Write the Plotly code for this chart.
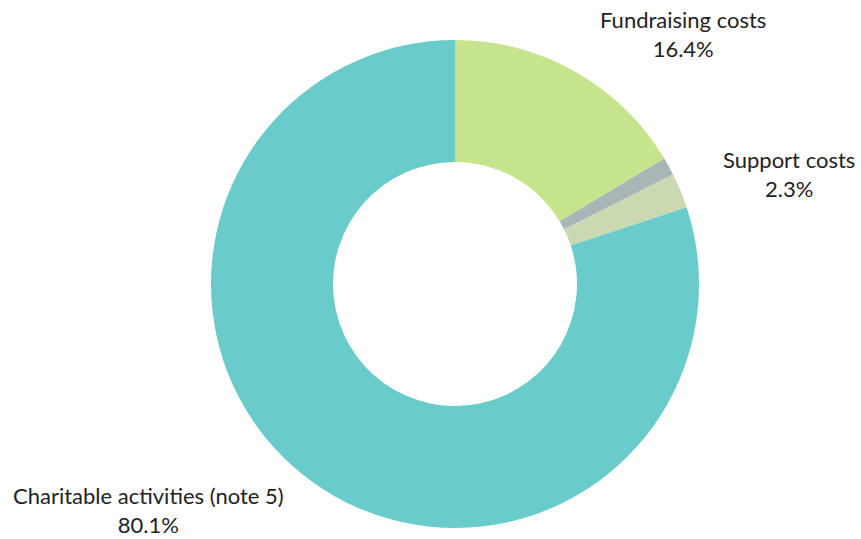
import plotly.graph_objects as go

# data
labels = ["Fundraising costs", "Governance costs", "Support costs", "Charitable activities (note 5)"]
values = [16.4, 1.2, 2.3, 80.1]
colors = ["#C5E48B", "#AAB5B8", "#CBD9B3", "#6ACCCA"]
show_label = [True, False, True, True]

# label positions in pixels (x centre, y, anchor)
label_pos = {
    "Fundraising costs": (683, 34, "middle"),
    "Support costs": (789, 174, "middle"),
    "Charitable activities (note 5)": (148, 539, "bottom"),
}

W, H = 861, 539

fig = go.Figure(go.Pie(
    labels=labels,
    values=values,
    marker=dict(colors=colors, line=dict(width=0)),
    hole=0.5,
    sort=False,
    direction="clockwise",
    rotation=0,
    textinfo="none",
    showlegend=False,
    domain=dict(x=[211 / W, 699 / W], y=[1 - 528 / H, 1 - 40 / H]),
))

font = dict(family="Lato, 'Noto Sans', sans-serif", size=22, color="#222222")
for lab, val, show in zip(labels, values, show_label):
    if not show:
        continue
    x, y, anchor = label_pos[lab]
    fig.add_annotation(x=x / W, y=1 - y / H, xref="paper", yref="paper",
                       text="{0}<br>{1}%".format(lab, val), showarrow=False,
                       xanchor="center", yanchor=anchor, align="center",
                       font=font, borderpad=0)

fig.update_layout(
    width=W, height=H,
    margin=dict(l=0, r=0, t=0, b=0),
    paper_bgcolor="white",
    plot_bgcolor="white",
)

fig.write_html("out.html", config={"displayModeBar": False},
               post_script="document.body.style.margin='0px';")
